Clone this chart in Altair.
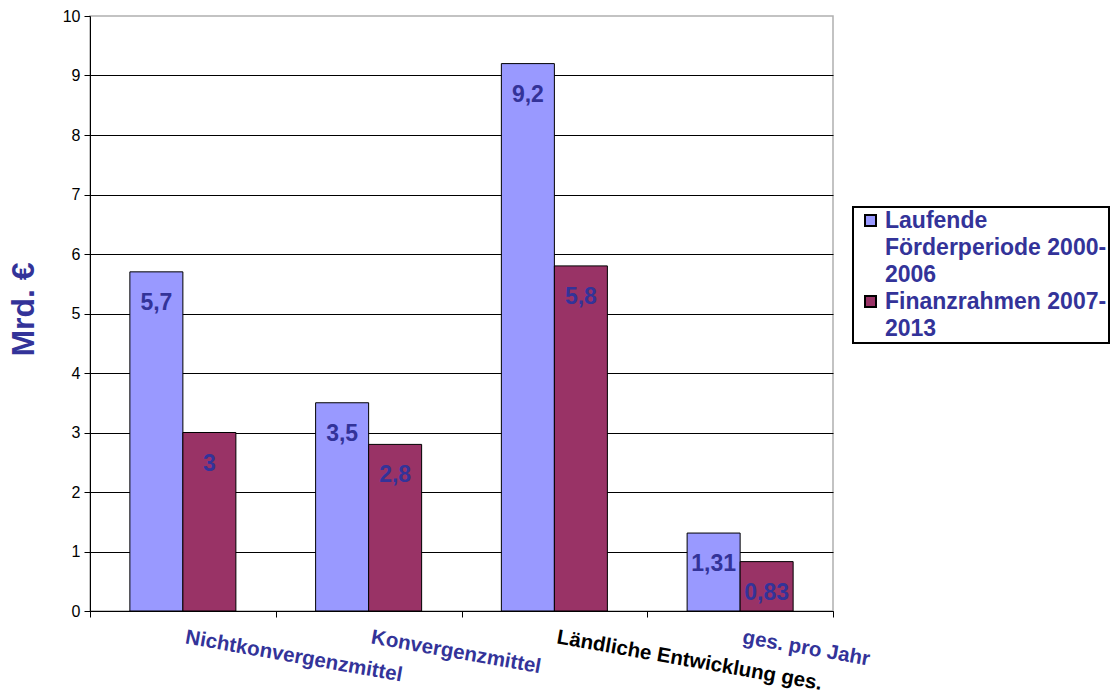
import altair as alt
import pandas as pd

# ---- data ----
categories = ["Nichtkonvergenzmittel", "Konvergenzmittel", "Ländliche Entwicklung ges.", "ges. pro Jahr"]
series = ["Laufende Förderperiode 2000-2006", "Finanzrahmen 2007-2013"]
values_2000_2006 = [5.7, 3.5, 9.2, 1.31]
values_2007_2013 = [3.0, 2.8, 5.8, 0.83]
labels_2000_2006 = ["5,7", "3,5", "9,2", "1,31"]
labels_2007_2013 = ["3", "2,8", "5,8", "0,83"]
y_ticks = [0, 1, 2, 3, 4, 5, 6, 7, 8, 9, 10]
bar_colors = ["#9999FF", "#993366"]

# legend text as wrapped in the reference (one legend row per line)
legend_lines = ["Laufende", "Förderperiode 2000-", "2006", "Finanzrahmen 2007-", "2013"]
legend_domain = [series[0], legend_lines[1], legend_lines[2], series[1], legend_lines[4]]
legend_fill = [bar_colors[0], "transparent", "transparent", bar_colors[1], "transparent"]
legend_stroke = ["black", "transparent", "transparent", "black", "transparent"]

rows = []
for i, cat in enumerate(categories):
    rows.append({"Kategorie": cat, "Reihe": series[0], "Wert": values_2000_2006[i], "Label": labels_2000_2006[i]})
    rows.append({"Kategorie": cat, "Reihe": series[1], "Wert": values_2007_2013[i], "Label": labels_2007_2013[i]})
df = pd.DataFrame(rows)

FONT = "Liberation Sans"
BLUE_TEXT = "#333399"

x_enc = alt.X(
    "Kategorie:N",
    sort=categories,
    scale=alt.Scale(paddingInner=0, paddingOuter=0),
    axis=alt.Axis(
        title=None,
        labelAngle=10,
        labelAlign="left",
        labelBaseline="top",
        labelFont=FONT,
        labelFontSize=20.5,
        labelFontWeight="bold",
        labelColor={"condition": {"test": "datum.value === 'Ländliche Entwicklung ges.'", "value": "black"}, "value": BLUE_TEXT},
        labelPadding=10,
        labelOffset=4,
        labelLimit=400,
        labelOverlap=False,
        tickBand="extent",
        tickSize=6,
        tickColor="black",
        domainColor="black",
        grid=False,
    ),
)
xoff_enc = alt.XOffset("Reihe:N", sort=series, scale=alt.Scale(domain=series, paddingInner=0, paddingOuter=0.752))
y_enc = alt.Y(
    "Wert:Q",
    scale=alt.Scale(domain=[0, 10], nice=False),
    axis=alt.Axis(
        values=y_ticks,
        format="d",
        title="Mrd. €",
        titleFont=FONT,
        titleFontSize=32,
        titleFontWeight="bold",
        titleColor=BLUE_TEXT,
        titleAngle=270,
        titleAlign="center",
        titleBaseline="middle",
        titleX=-67,
        titleY=293,
        labelFont=FONT,
        labelFontSize=16,
        labelColor="black",
        labelPadding=4,
        tickSize=6,
        tickColor="black",
        domainColor="black",
        grid=True,
        gridColor={"condition": {"test": "datum.value === 10", "value": "transparent"}, "value": "black"},
        gridWidth=1,
    ),
)

legend_def = alt.Legend(
    title=None,
    orient="none",
    legendX=763,
    legendY=191,
    labelFont=FONT,
    labelFontSize=23,
    labelFontWeight="bold",
    labelColor=BLUE_TEXT,
    labelLimit=400,
    labelOffset=3,
    labelExpr="datum.label == 'Laufende Förderperiode 2000-2006' ? 'Laufende' : datum.label == 'Finanzrahmen 2007-2013' ? 'Finanzrahmen 2007-' : datum.label",
    symbolType="square",
    symbolSize=121,
    symbolStrokeWidth=2,
    symbolOpacity=1,
    symbolOffset=4,
    strokeColor="black",
    padding=2,
    rowPadding=3,
)

color_enc = alt.Color("Reihe:N", scale=alt.Scale(domain=legend_domain, range=legend_fill), legend=legend_def)
stroke_enc = alt.Stroke("Reihe:N", scale=alt.Scale(domain=legend_domain, range=legend_stroke), legend=legend_def)

bars = alt.Chart(df).mark_bar(strokeWidth=1, opacity=1).encode(
    x=x_enc, xOffset=xoff_enc, y=y_enc, color=color_enc, stroke=stroke_enc
)
texts = alt.Chart(df).mark_text(
    dy=31, baseline="middle", align="center", font=FONT, fontSize=23, fontWeight="bold", color=BLUE_TEXT
).encode(x=x_enc, xOffset=xoff_enc, y=alt.Y("Wert:Q"), text="Label:N")

chart = (
    alt.layer(bars, texts)
    .properties(
        width=743,
        height=595,
        autosize=alt.AutoSizeParams(type="none"),
        padding={"left": 90, "top": 16, "right": 277, "bottom": 82},
        background="white",
    )
    .configure_view(stroke="#b0b0b0", strokeWidth=1.5)
    .configure_legend(strokeWidth=2)
)

chart.save("out.html", embed_options={"renderer": "svg", "actions": False})
